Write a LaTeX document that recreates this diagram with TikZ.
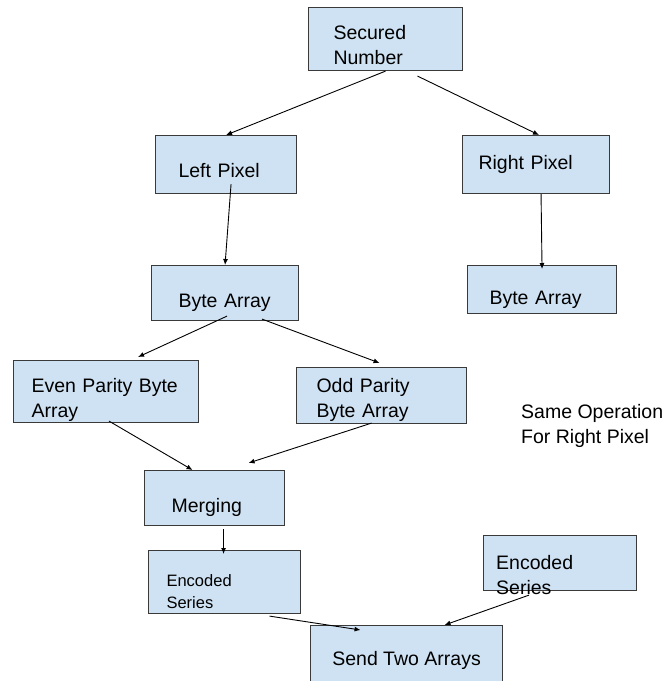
\documentclass[tikz,border=0pt]{standalone}
\usepackage{fontspec}
\setmainfont{Liberation Sans}
\usetikzlibrary{arrows.meta}
\definecolor{boxfill}{HTML}{CFE2F3}
\definecolor{boxline}{HTML}{3A3A3A}
% invisible strut that pushes the first line down
\newcommand{\txtdrop}[1]{\rule{0pt}{#1pt}}
\tikzset{
  blk/.style={draw=boxline, line width=1.1pt, fill=boxfill, align=left, anchor=north west,
    inner ysep=1pt, font=\fontsize{19.5}{25}\selectfont},
  txt/.style={anchor=west, align=left, inner sep=0pt, font=\fontsize{19.5}{25}\selectfont},
  flow/.style={-{Latex[length=6pt,width=5pt]}, line width=0.9pt, black},
}
\begin{document}
\begin{tikzpicture}[x=1pt, y=-1pt]
    \clip (0,0) rectangle (672,681);
    \fill[white] (0,0) rectangle (672,681);

    % Source and the two pixels
    \node[blk, minimum width=154pt, minimum height=63pt, text width=104pt, inner xsep=25pt] (sec) at (308,7) {\txtdrop{26}Secured\\Number};
    \node[blk, minimum width=141pt, minimum height=58pt, text width=95pt, inner xsep=23pt] (lp) at (155,135) {\txtdrop{26}Left Pixel};
    \node[blk, minimum width=147pt, minimum height=58pt, text width=115pt, inner xsep=16pt] (rp) at (462,135) {Right Pixel};

    % Byte arrays
    \node[blk, minimum width=147pt, minimum height=55pt, text width=93pt, inner xsep=27pt] (ba) at (151,265) {\txtdrop{32}Byte Array};
    \node[blk, minimum width=149pt, minimum height=48pt, text width=105pt, inner xsep=22pt] (bb) at (467,265) {\txtdrop{33}Byte Array};

    % Parity split
    \node[blk, minimum width=185pt, minimum height=62pt, text width=149pt, inner xsep=18pt, inner ysep=0pt] (even) at (13,360) {\txtdrop{30}Even Parity Byte\\Array};
    \node[blk, minimum width=170pt, minimum height=56pt, text width=130pt, inner xsep=20pt] (odd) at (296,367) {\txtdrop{22}Odd Parity\\Byte Array};
    \node[txt] (note) at (521,426) {Same Operation\\For Right Pixel};

    % Merge and encode
    \node[blk, minimum width=140pt, minimum height=55pt, text width=86pt, inner xsep=27pt] (merge) at (144,470) {\txtdrop{32}Merging};
    \node[blk, minimum width=152pt, minimum height=63pt, text width=116pt, inner xsep=18pt,
      font=\fontsize{16.5}{22}\selectfont] (encl) at (148,550) {\txtdrop{31}Encoded\\Series};
    \node[blk, minimum width=153pt, minimum height=55pt] (encr) at (483,535) {};
    \node[txt] (encrtxt) at (496,575) {Encoded\\Series};

    % Output
    \node[blk, minimum width=192pt, minimum height=60pt, align=center] (send) at (310,625) {\txtdrop{24}Send Two Arrays};

    % Connectors
    \draw[flow] (sec.south) -- (lp.north);
    \draw[flow] ([shift={(32,5)}]sec.south) -- ([shift={(3,0)}]rp.north);
    \draw[flow] ([shift={(5,-10)}]lp.south) -- (ba.north);
    \draw[flow] ([shift={(5,0)}]rp.south) -- ([shift={(0,4)}]bb.north);
    \draw[flow] ([shift={(2,-5)}]ba.south) -- ([shift={(32,-3)}]even.north);
    \draw[flow] ([shift={(37,-2)}]ba.south) -- ([shift={(-2,-4)}]odd.north);
    \draw[flow] ([shift={(3,-2)}]even.south) -- ([shift={(-22,0)}]merge.north);
    \draw[flow] ([shift={(-10,-1)}]odd.south) -- ([shift={(34,-7)}]merge.north);
    \draw[flow] ([shift={(9,3)}]merge.south) -- ([shift={(-1,4)}]encl.north);
    \draw[flow] ([shift={(45,2)}]encl.south) -- ([shift={(-46,5)}]send.north);
    \draw[flow] ([shift={(-31,4)}]encr.south) -- ([shift={(38,0)}]send.north);
\end{tikzpicture}
\end{document}
